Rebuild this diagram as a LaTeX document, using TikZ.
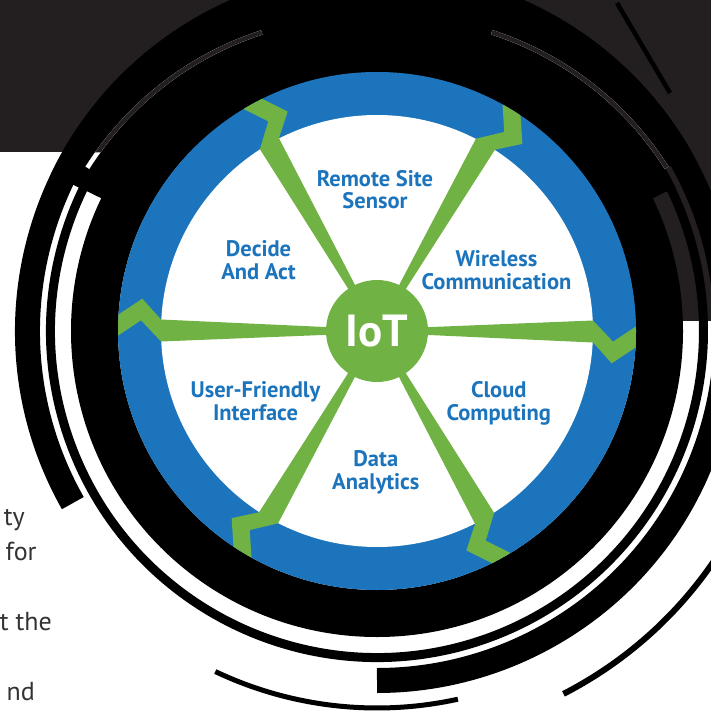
\documentclass[tikz,border=0pt]{standalone}
\usepackage{fontspec}
\setmainfont{PT Sans}
\definecolor{darkbg}{HTML}{231F20}
\definecolor{iotblue}{HTML}{1C75BC}
\definecolor{iotgreen}{HTML}{71B244}
\definecolor{paragray}{HTML}{333333}
\tikzset{
  lbl/.style={font=\fontsize{22.5}{22}\selectfont\bfseries, text=iotblue, anchor=base, inner sep=0pt},
  para/.style={font=\fontsize{26}{30}\selectfont, text=paragray, anchor=base east, inner sep=0pt},
  spoke/.style={fill=iotgreen},
  gapline/.style={line width=4.5},
}
\begin{document}
\begin{tikzpicture}[x=1pt,y=-1pt]
\useasboundingbox (0,0) rectangle (711,714);
\clip (0,0) rectangle (711,714);
\coordinate (O) at (377,331);
\fill[white] (0,0) rectangle (711,714);
\fill[darkbg] (0,0) rectangle (711,152.5);
\fill[darkbg] (560,0) rectangle (711,321);
% outer arcs
\draw[black, line width=25] (O) ++(-209.5:349.5) arc[start angle=-209.5, end angle=90, radius=349.5];
\draw[black, line width=9] (O) ++(-111.2:326.5) arc[start angle=-111.2, end angle=-400, radius=326.5];
\draw[black, line width=72] (O) ++(-154.3:295) arc[start angle=-154.3, end angle=-25.7, radius=295];
\draw[black, line width=32] (O) ++(-154.3:346) arc[start angle=-154.3, end angle=-29.4, radius=346];
\draw[black, line width=5] (O) ++(77.6:377) arc[start angle=77.6, end angle=115.4, radius=377];
\draw[black, line width=6] (O) ++(20:408) arc[start angle=20, end angle=62.8, radius=408];
\draw[black, line width=4.5] (617,3) -- (670,93);
% gaps inside the upper black band
\begin{scope}[shift={(O)}]
  \draw[white, gapline] plot[domain=-150.6:-111.1, samples=40] (\x:{332.5+(\x+150.6)*(320-332.5)/39.5});
  \draw[white, gapline] plot[domain=-69:-29.4, samples=40] (\x:{320+(\x+69)*(332.5-320)/39.6});
\end{scope}
\begin{scope}
  \clip (0,0) rectangle (711,152.5) (560,0) rectangle (711,321);
  \begin{scope}[shift={(O)}]
    \draw[darkbg, gapline] plot[domain=-150.6:-111.1, samples=40] (\x:{332.5+(\x+150.6)*(320-332.5)/39.5});
    \draw[darkbg, gapline] plot[domain=-69:-29.4, samples=40] (\x:{320+(\x+69)*(332.5-320)/39.6});
  \end{scope}
\end{scope}
% main ring
\draw[black, line width=47] (O) circle[radius=282.5];
\fill[iotblue] (O) circle[radius=259];
\fill[white] (O) circle[radius=216];
\begin{scope}
\clip (O) circle[radius=259];
\foreach \a in {0,60,...,300} {
  \fill[spoke, shift={(O)}, rotate=-\a] (30,-3) -- (216,-10.5) -- (236,10.7) -- (270,-11.9) -- (270,8.9) -- (234.7,32.3) -- (216,11.5) -- (30,3) -- cycle;
}
\end{scope}
\node[circle, fill=iotgreen, minimum size=102pt, inner sep=0pt, text=white, font=\fontsize{45}{45}\selectfont\bfseries] (iot) at (O) {IoT};
% labels
\node[lbl] (rs1) at (375,186.7) {Remote Site};
\node[lbl] (rs2) at (375,208.3) {Sensor};
\node[lbl] (da1) at (258.5,256.7) {Decide};
\node[lbl] (da2) at (258.5,279.3) {And Act};
\node[lbl] (wc1) at (496.5,266.7) {Wireless};
\node[lbl] (wc2) at (496.5,289.3) {Communication};
\node[lbl] (uf1) at (255.5,397.7) {User-Friendly};
\node[lbl] (uf2) at (255.5,420.3) {Interface};
\node[lbl] (dt1) at (375.8,466.7) {Data};
\node[lbl] (dt2) at (375.8,489.3) {Analytics};
\node[lbl] (cc1) at (498.8,397.7) {Cloud};
\node[lbl] (cc2) at (498.8,420.3) {Computing};
% paragraph fragments
\node[para] (p1) at (25,525) {ty};
\node[para] (p2) at (36.7,560) {for};
\node[para] (p3) at (52,630) {t the};
\node[para] (p4) at (35,700) {nd};
\end{tikzpicture}
\end{document}
